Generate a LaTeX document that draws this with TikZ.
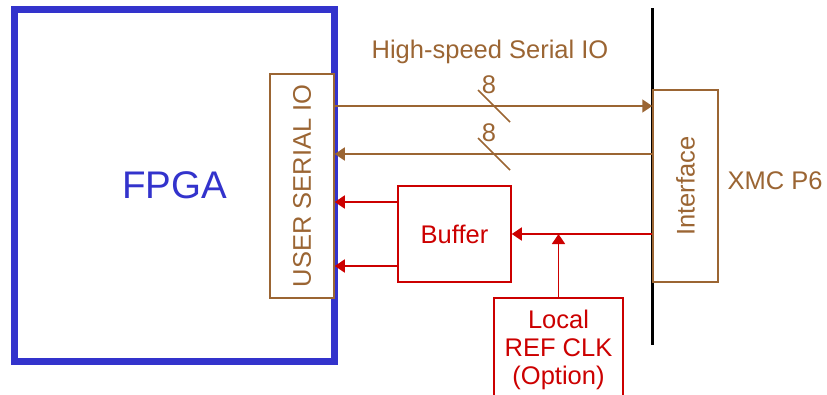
\documentclass[tikz,border=0pt]{standalone}
\usepackage{fontspec}
\setmainfont{Liberation Sans}
\usepackage{tikz}
\usetikzlibrary{arrows.meta, calc, positioning}

\definecolor{fpgablue}{RGB}{51,51,204}
\definecolor{iobrown}{RGB}{155,101,51}
\definecolor{clkred}{RGB}{204,0,0}

\begin{document}
\begin{tikzpicture}[x=1pt, y=-1pt, >={Triangle[length=10pt, width=13pt]},
    box/.style={draw, line width=1.5pt, inner sep=0pt},
    lbl/.style={font=\fontsize{25.5}{28}\selectfont},
    bus/.style={iobrown, line width=1.5pt},
    clk/.style={clkred, line width=1.5pt}]
    \useasboundingbox (0,0) rectangle (827,394);
    \clip (0,0) rectangle (827,394);

    % FPGA
    \node[draw=fpgablue, line width=7pt, minimum width=320pt, minimum height=352pt,
          text=fpgablue, font=\fontsize{38.5}{44}\selectfont] (fpga) at (174.5,185.5) {FPGA};
    \node[box, draw=iobrown, fill=white, minimum width=64pt, minimum height=224pt] (usio) at (302,186) {};
    \node[lbl, text=iobrown, rotate=90] (usiotext) at (usio.center) {USER SERIAL IO};

    % XMC connector
    \draw[line width=3pt] (652,8) coordinate (bartop) -- (652,345) coordinate (barbot);
    \node[box, draw=iobrown, minimum width=65pt, minimum height=192pt] (iface) at (685.5,186) {};
    \node[lbl, text=iobrown, rotate=90] (ifacetext) at (iface.center) {Interface};
    \node[lbl, text=iobrown] (xmc) at (775,181) {XMC P6};

    % High-speed serial lanes
    \node[lbl, text=iobrown] (hsio) at (490,52) {High-speed Serial IO};
    \draw[bus, ->] (usio.east |- 0,106) coordinate (tx) -- (iface.west |- tx);
    \draw[bus, <-] (usio.east |- 0,154) coordinate (rx) -- (iface.west |- rx);
    \draw[bus] (478,90) -- (510,122);
    \draw[bus] (478,138) -- (510,170);
    \node[lbl, text=iobrown] (txw) at (489,85) {8};
    \node[lbl, text=iobrown] (rxw) at (489,133) {8};

    % Clock path
    \node[box, draw=clkred, text=clkred, lbl, minimum width=113pt, minimum height=96pt] (buf) at (454.5,234) {Buffer};
    \node[box, draw=clkred, text=clkred, lbl, align=center, minimum width=129pt, minimum height=104pt] (local) at (558.5,350) {Local\\REF CLK\\(Option)};
    \draw[clk, ->] (iface.west |- buf.east) -- (buf.east);
    \draw[clk, ->] (local.north) -- (local.north |- buf.east);
    \draw[clk, ->] (buf.west |- 0,202) -- (usio.east |- 0,202);
    \draw[clk, ->] (buf.west |- 0,266) -- (usio.east |- 0,266);
\end{tikzpicture}
\end{document}
